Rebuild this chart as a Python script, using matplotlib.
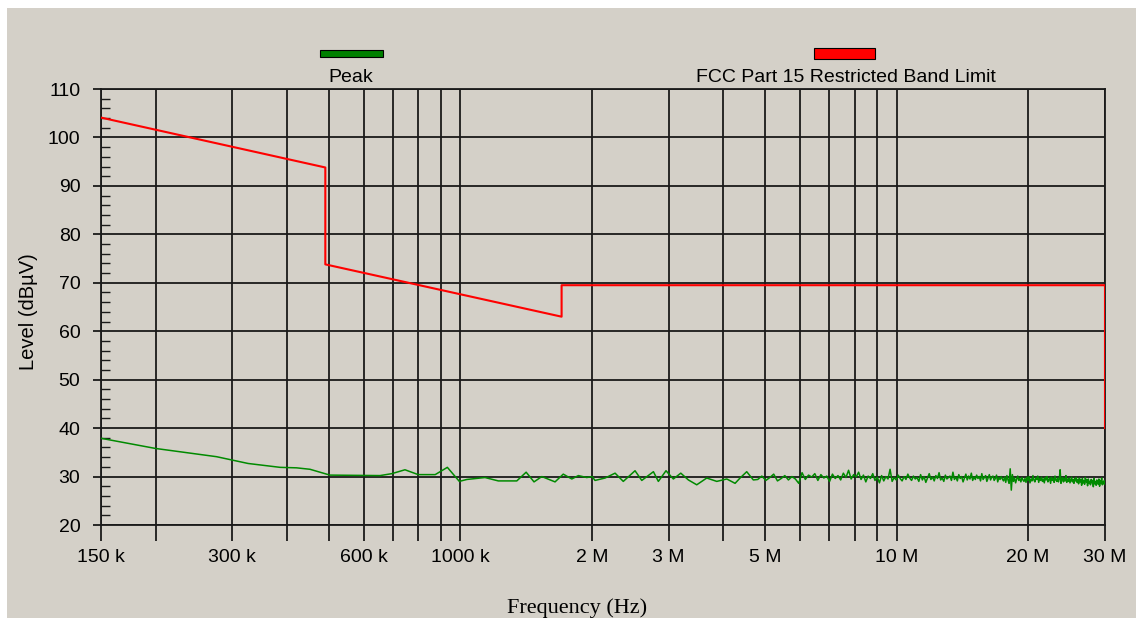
import numpy as np
import matplotlib
matplotlib.use("Agg")
import matplotlib.pyplot as plt
from matplotlib.patches import Rectangle
from matplotlib.ticker import FixedLocator, MultipleLocator, NullFormatter

# ---------------- data ----------------
# FCC Part 15 restricted band limit (frequency in Hz, level in dBuV)
limit_freq = [150e3, 490e3, 490e3, 1705e3, 1705e3, 30e6, 30e6]
limit_level = [104.1, 93.8, 73.8, 63.0, 69.5, 69.5, 40.0]

# Peak trace, low-frequency part (sparse points)
peak_freq_low = [150e3, 200e3, 228e3, 276e3, 300e3, 326e3, 386e3, 421e3, 452e3,
                 502e3, 654e3, 696e3, 746e3, 800e3, 875e3, 933e3, 994e3, 1034e3,
                 1138e3, 1221e3, 1346e3, 1414e3, 1474e3, 1536e3, 1647e3,
                 1720e3, 1799e3, 1863e3, 1947e3, 2003e3, 2034e3, 2145e3, 2261e3,
                 2361e3, 2512e3, 2603e3, 2768e3, 2841e3, 2958e3, 3075e3, 3198e3,
                 3329e3, 3479e3, 3668e3, 3867e3, 4077e3, 4259e3, 4373e3, 4529e3,
                 4690e3]
peak_level_low = [37.9, 35.8, 35.1, 34.1, 33.4, 32.7, 31.9, 31.8, 31.5,
                  30.3, 30.2, 30.6, 31.4, 30.4, 30.4, 31.9, 29.0, 29.4,
                  29.8, 29.1, 29.1, 30.9, 28.9, 30.0, 28.9,
                  30.5, 29.5, 30.2, 29.8, 30.0, 29.2, 29.7, 30.7,
                  29.0, 31.2, 29.2, 31.0, 29.0, 31.2, 29.5, 30.7,
                  29.3, 28.3, 29.7, 29.0, 29.5, 28.6, 29.7, 31.0,
                  29.3]

# Peak trace, dense sweep 4.8 MHz .. 30 MHz (equal frequency steps)
sweep_start = 4.8e6
sweep_stop = 30e6
peak_level_sweep = [
    29.4, 30.1, 29.2, 29.8, 30.5, 29.1, 29.6, 30.2, 29.3, 30.0, 29.5, 28.6, 30.8, 29.4, 30.3, 29.9, 30.6, 29.2, 30.4, 29.7,
    30.1, 29.0, 30.5, 29.6, 30.2, 29.3, 30.7, 29.8, 31.3, 29.5, 30.4, 29.9, 30.9, 29.4, 30.3, 28.9, 30.1, 29.6, 30.6, 29.2,
    29.9, 28.7, 30.2, 29.1, 30.0, 29.5, 31.5, 29.0, 29.8, 29.3, 30.3, 29.6, 29.1, 30.0, 29.4, 30.5, 29.7, 29.2, 30.1, 29.5,
    29.8, 29.0, 30.4, 29.3, 30.0, 28.8, 29.7, 30.6, 29.4, 29.9, 29.1, 30.2, 29.6, 30.8, 29.3, 29.7, 29.0, 30.3, 29.5, 29.8,
    30.1, 29.2, 30.9, 29.4, 29.9, 29.1, 30.4, 29.6, 30.0, 28.9, 29.7, 30.5, 29.3, 30.1, 29.5, 30.7, 29.2, 29.9, 29.4, 30.3,
    29.6, 30.0, 29.1, 30.6, 29.4, 29.8, 30.2, 29.0, 29.7, 30.4, 29.3, 29.9, 30.1, 29.2, 29.6, 30.3, 28.9, 29.8, 29.4, 30.0,
    29.5, 29.1, 29.9, 28.8, 30.2, 29.3, 28.6, 31.6, 27.2, 30.4, 29.0, 29.7, 28.7, 29.5, 30.1, 29.2, 29.6, 28.9, 29.8, 29.3,
    29.0, 29.6, 28.8, 29.9, 29.2, 30.0, 28.7, 29.5, 29.1, 30.2, 29.3, 28.9, 29.7, 29.4, 30.1, 28.8, 29.6, 29.2, 29.9, 29.0,
    29.5, 28.7, 29.8, 29.3, 30.0, 28.9, 29.4, 29.7, 28.6, 29.9, 29.2, 29.6, 28.8, 30.1, 29.3, 29.0, 29.7, 28.9, 29.5, 31.4,
    28.6, 29.4, 29.8, 28.9, 29.6, 29.1, 30.2, 28.8, 29.5, 29.0, 29.7, 28.7, 29.3, 29.9, 28.9, 29.4, 28.6, 29.6, 29.1, 29.8,
    28.8, 29.3, 28.5, 29.7, 28.9, 29.4, 28.2, 29.6, 28.7, 29.1, 28.4, 29.8, 28.9, 29.3, 28.1, 29.5, 28.6, 29.0, 28.3, 29.4,
    28.7, 29.2, 27.9, 29.6, 28.5, 29.0, 28.2, 29.3, 28.8, 28.4, 29.5, 28.0, 29.1, 28.6, 29.7, 28.3, 28.9, 28.5, 29.2, 28.4,
]

grid_freqs = [150e3, 200e3, 300e3, 400e3, 500e3, 600e3, 700e3, 800e3, 900e3, 1e6,
              2e6, 3e6, 4e6, 5e6, 6e6, 7e6, 8e6, 9e6, 10e6, 20e6, 30e6]
grid_labels = ["150 k", "", "300 k", "", "", "600 k", "", "", "", "1000 k",
               "2 M", "3 M", "", "5 M", "", "", "", "", "10 M", "20 M", "30 M"]
y_ticks = [20, 30, 40, 50, 60, 70, 80, 90, 100, 110]

legend_names = ["Peak", "FCC Part 15 Restricted Band Limit"]

# ---------------- figure ----------------
W, H = 1142, 623
BG = "#D4D0C8"
fig = plt.figure(figsize=(W / 100, H / 100), dpi=100, facecolor="white")
plt.rcParams["font.family"] = ["Liberation Sans", "DejaVu Sans"]


def fx(px):
    return px / W


def fy(py):
    return 1 - py / H


# grey panel
fig.patches.append(Rectangle((fx(7), fy(618)), fx(1136) - fx(7), fy(8) - fy(618),
                             transform=fig.transFigure, facecolor=BG, edgecolor="none", zorder=-10))

ax = fig.add_axes([fx(101), fy(525), fx(1105) - fx(101), fy(89) - fy(525)])
ax.set_facecolor(BG)

sweep_freq = np.linspace(sweep_start, sweep_stop, len(peak_level_sweep))
peak_freq = np.concatenate([peak_freq_low, sweep_freq])
peak_level = np.concatenate([peak_level_low, peak_level_sweep])

ax.plot(peak_freq, peak_level, color="#008A00", lw=1.1, zorder=3)
ax.plot(limit_freq, limit_level, color="#FF0000", lw=1.5, zorder=4)

ax.set_xscale("log")
ax.set_xlim(150e3, 30e6)
ax.set_ylim(20, 110)

ax.xaxis.set_major_locator(FixedLocator(grid_freqs))
ax.xaxis.set_minor_locator(FixedLocator([]))
ax.set_xticklabels(grid_labels)
ax.xaxis.set_minor_formatter(NullFormatter())
ax.set_yticks(y_ticks)
ax.yaxis.set_minor_locator(MultipleLocator(2))

gc = "#1a1a1a"
ax.grid(True, which="major", color=gc, lw=1.3, zorder=1)
ax.tick_params(axis="x", which="major", direction="out", length=11.5, width=1.3,
               color=gc, labelsize=14, pad=6)
ax.tick_params(axis="y", which="major", direction="out", length=5.8, width=1.3,
               color=gc, labelsize=14, pad=9)
ax.tick_params(axis="y", which="minor", direction="in", length=6.5, width=1.0, color=gc)
for s in ax.spines.values():
    s.set_color(gc)
    s.set_linewidth(1.3)

ax.set_ylabel("Level (dBµV)", fontsize=14.5)
ax.yaxis.set_label_coords((38 - 101) / 1004, 0.49)

fig.text(fx(577), fy(608), "Frequency (Hz)", fontsize=16, family="Liberation Serif",
         ha="center", va="center")

# legend above plot
fig.patches.append(Rectangle((fx(320), fy(57)), fx(383) - fx(320), fy(50) - fy(57),
                             transform=fig.transFigure, facecolor="#008000",
                             edgecolor="black", lw=0.8))
fig.patches.append(Rectangle((fx(814), fy(59)), fx(875) - fx(814), fy(48) - fy(59),
                             transform=fig.transFigure, facecolor="#FF0000",
                             edgecolor="black", lw=0.8))
fig.text(fx(351), fy(77), legend_names[0], fontsize=14, ha="center", va="center")
fig.text(fx(845.5), fy(77), legend_names[1], fontsize=14, ha="center", va="center")

fig.savefig("out.png", dpi=100, facecolor="white")
